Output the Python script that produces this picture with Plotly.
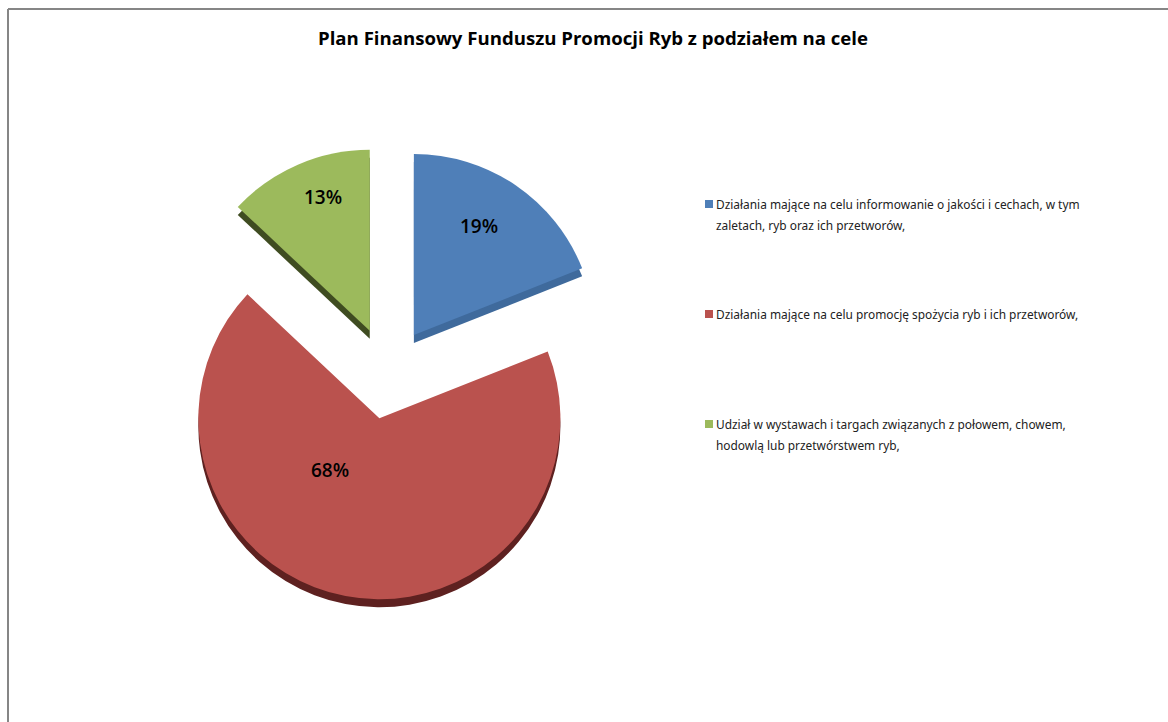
import plotly.graph_objects as go

W, H = 1168, 722
TITLE = "Plan Finansowy Funduszu Promocji Ryb z podziałem na cele"
CATEGORY_LINES = [
    ["Działania mające na celu informowanie o jakości i cechach, w tym", "zaletach, ryb oraz ich przetworów,"],
    ["Działania mające na celu promocję spożycia ryb i ich przetworów,"],
    ["Udział w wystawach i targach związanych z połowem, chowem,", "hodowlą lub przetwórstwem ryb,"],
]
VALUES = [19, 68, 13]
COLORS = ["#4F7FB8", "#BA524E", "#9CBA5C"]
SIDE_COLORS = ["#3F6A9C", "#5E2120", "#3F4C21"]
PULLS = [0.254, 0.254, 0.254]
LABEL_XY = [(479, 226), (330, 470), (323, 197)]
LEGEND_XY = [(716, 204), (716, 314), (716, 424)]

CX, CY, SIZE, DEPTH = 388, 373, 454, 8
LABELS = [" ".join(l) for l in CATEGORY_LINES]


def dom(dy):
    return dict(
        x=[(CX - SIZE / 2) / W, (CX + SIZE / 2) / W],
        y=[1 - (CY + dy + SIZE / 2) / H, 1 - (CY + dy - SIZE / 2) / H],
    )


fig = go.Figure()
for colors, dy in ((SIDE_COLORS, DEPTH), (COLORS, 0)):
    fig.add_trace(go.Pie(
        labels=LABELS, values=VALUES, sort=False, direction="clockwise", rotation=0,
        pull=PULLS, marker=dict(colors=colors, line=dict(width=0)),
        textinfo="none", domain=dom(dy), showlegend=False,
    ))

ann = [dict(x=x / W, y=1 - y / H, xref="paper", yref="paper", text=f"{v}%", showarrow=False,
            xanchor="center", yanchor="middle",
            font=dict(family="Open Sans", size=19, color="#000000", weight=600))
       for v, (x, y) in zip(VALUES, LABEL_XY)]
shapes = []
for lines, col, (x, y) in zip(CATEGORY_LINES, COLORS, LEGEND_XY):
    for i, line in enumerate(lines):
        ann.append(dict(x=(x - 2) / W, y=1 - (y + i * 21) / H, xref="paper", yref="paper", text=line,
                        showarrow=False, xanchor="left", yanchor="middle",
                        font=dict(family="Noto Sans", size=11.9, color="#222222")))
    shapes.append(dict(type="rect", xref="paper", yref="paper", x0=(x - 11) / W, x1=(x - 3) / W,
                       y0=1 - (y + 4) / H, y1=1 - (y - 4) / H, fillcolor=col, line_width=0))
shapes.append(dict(type="line", xref="paper", yref="paper", x0=8 / W, x1=1, y0=1 - 9 / H, y1=1 - 9 / H,
                   line=dict(color="#868686", width=2)))
shapes.append(dict(type="line", xref="paper", yref="paper", x0=8 / W, x1=8 / W, y0=0, y1=1 - 9 / H,
                   line=dict(color="#868686", width=2)))

fig.update_layout(
    width=W, height=H, margin=dict(l=0, r=0, t=0, b=0), paper_bgcolor="white",
    title=dict(text=f"<b>{TITLE}</b>", x=593 / W, xanchor="center", y=1 - 38 / H, yanchor="middle",
               font=dict(family="Open Sans", size=18.6, color="#000000")),
    annotations=ann, shapes=shapes,
)
fig.write_html("out.html", config={"displayModeBar": False},
               post_script="document.body.style.margin='0';")
